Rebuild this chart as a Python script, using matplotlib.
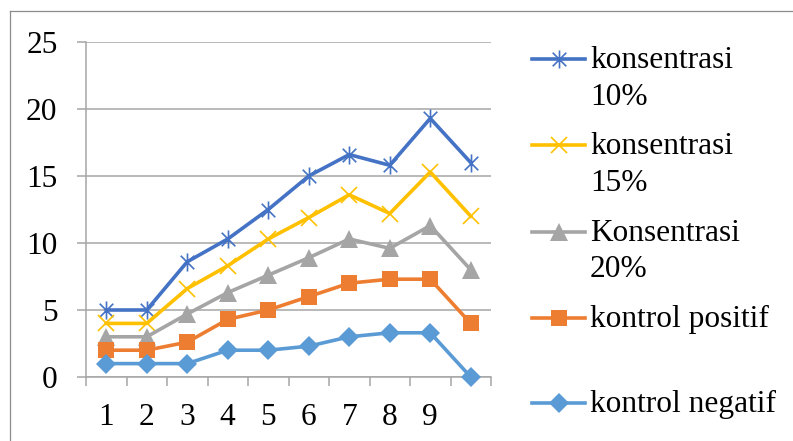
import matplotlib
matplotlib.use("Agg")
import matplotlib.pyplot as plt
from matplotlib.lines import Line2D
from matplotlib.path import Path
import numpy as np

# ---- data ----
categories = [1, 2, 3, 4, 5, 6, 7, 8, 9, 10]
tick_labels = ["1", "2", "3", "4", "5", "6", "7", "8", "9", ""]
konsentrasi_10 = [5, 5, 8.6, 10.3, 12.5, 15, 16.6, 15.8, 19.3, 16]
konsentrasi_15 = [4, 4, 6.6, 8.3, 10.3, 11.9, 13.6, 12.2, 15.3, 12]
konsentrasi_20 = [3, 3, 4.7, 6.3, 7.6, 8.9, 10.3, 9.6, 11.3, 8]
kontrol_positif = [2, 2, 2.6, 4.3, 5, 6, 7, 7.3, 7.3, 4]
kontrol_negatif = [1, 1, 1, 2, 2, 2.3, 3, 3.3, 3.3, 0]
series_labels = [["konsentrasi", "10%"], ["konsentrasi", "15%"],
                 ["Konsentrasi", "20%"], ["kontrol positif"], ["kontrol negatif"]]

plt.rcParams['font.family'] = ['Liberation Serif', 'DejaVu Serif']

W, H = 793, 441
FS = 22.6
LW = 2.6
fig = plt.figure(figsize=(W / 100, H / 100), dpi=100)

def fx(px):
    return px / W

def fy(py):
    return 1 - py / H

ax_l, ax_r, ax_t, ax_b = 86, 491, 42, 377
ax = fig.add_axes([fx(ax_l), fy(ax_b), (ax_r - ax_l) / W, (ax_b - ax_t) / H])

star = Path([(0, -1), (0, 1), (-0.75, -0.75), (0.75, 0.75), (-0.75, 0.75), (0.75, -0.75)],
            [Path.MOVETO, Path.LINETO, Path.MOVETO, Path.LINETO, Path.MOVETO, Path.LINETO])

styles = [
    dict(color='#4472C4', marker=star, ms=13, mew=1.2, mfc='none', mec='#4472C4'),
    dict(color='#FFC000', marker='x', ms=12, mew=1.2, mec='#FFC000'),
    dict(color='#A5A5A5', marker='^', ms=13, mew=0, mfc='#A5A5A5'),
    dict(color='#ED7D31', marker='s', ms=12, mew=0, mfc='#ED7D31'),
    dict(color='#5B9BD5', marker='D', ms=10, mew=0, mfc='#5B9BD5'),
]
series = [konsentrasi_10, konsentrasi_15, konsentrasi_20, kontrol_positif, kontrol_negatif]

for vals, st in zip(series, styles):
    ax.plot(categories, vals, lw=LW, clip_on=False, zorder=3, **st)

ax.set_xlim(0.5, len(categories) + 0.5)
ax.set_ylim(0, 25)
ax.set_yticks(np.arange(0, 26, 5))
ax.set_yticklabels([str(v) for v in range(0, 26, 5)])
ax.set_xticks(categories)
ax.set_xticklabels(tick_labels)
ax.set_xticks(np.arange(0.5, len(categories) + 1, 1), minor=True)

grid_c = '#A6A6A6'
ax.grid(axis='y', color=grid_c, lw=1.1, zorder=0)
ax.set_axisbelow(True)
for s in ['top', 'right']:
    ax.spines[s].set_visible(False)
for s in ['left', 'bottom']:
    ax.spines[s].set_color(grid_c)
    ax.spines[s].set_linewidth(1.1)

ax.tick_params(axis='y', which='major', length=6.5, width=1.1, color=grid_c,
               labelsize=FS, pad=14)
ax.tick_params(axis='x', which='major', length=0, labelsize=FS, pad=19)
ax.tick_params(axis='x', which='minor', length=6.5, width=1.1, color=grid_c)

# ---- legend (Excel style, drawn by hand) ----
handle_x0, handle_x1, text_x = 532, 585, 590
baselines = [[68, 105], [154, 191], [241, 277], [327], [412]]
for st, labs, bls in zip(styles, series_labels, baselines):
    hy = bls[0] - 9.5
    line_kw = {k: v for k, v in st.items() if k != 'marker'}
    ln = Line2D([fx(handle_x0), fx(handle_x1)], [fy(hy), fy(hy)], lw=LW,
                transform=fig.transFigure, **line_kw)
    ln.set_marker('None')
    fig.add_artist(ln)
    mk = Line2D([fx((handle_x0 + handle_x1) / 2)], [fy(hy)], lw=0,
                transform=fig.transFigure, **st)
    fig.add_artist(mk)
    for lab, bl in zip(labs, bls):
        fig.text(fx(text_x), fy(bl), lab, fontsize=FS, ha='left', va='baseline')

# ---- outer chart border ----
border_c = '#8C8C8C'
fig.add_artist(Line2D([fx(9.5), fx(9.5)], [fy(11), 0], color=border_c, lw=0.9,
                      transform=fig.transFigure))
fig.add_artist(Line2D([fx(9.5), 1], [fy(11), fy(11)], color=border_c, lw=0.9,
                      transform=fig.transFigure))

fig.savefig("out.png", dpi=100)
